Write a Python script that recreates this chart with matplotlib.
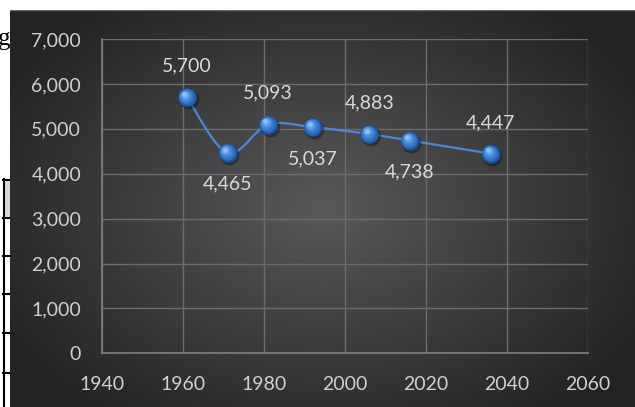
import numpy as np
import matplotlib
matplotlib.use("Agg")
import matplotlib.pyplot as plt
from matplotlib.path import Path
from matplotlib.patches import PathPatch, Rectangle
from matplotlib.lines import Line2D
from matplotlib.transforms import offset_copy
from matplotlib.ticker import FuncFormatter

# population series
years = [1961, 1971, 1981, 1992, 2006, 2016, 2036]
values = [5700, 4465, 5093, 5037, 4883, 4738, 4447]
label_above = [True, False, True, False, True, False, True]

x_ticks = [1940, 1960, 1980, 2000, 2020, 2040, 2060]
y_ticks = [0, 1000, 2000, 3000, 4000, 5000, 6000, 7000]

W, H = 635, 407
fig = plt.figure(figsize=(W / 100, H / 100), dpi=100)
fig.patch.set_facecolor("white")

# bits of the page behind the chart: caption text and a table
fig.text(-2 / W, 1 - 45 / H, "gu", fontsize=18, family="Liberation Serif",
         color="black", va="baseline", ha="left", zorder=0)
fig.add_artist(Rectangle((3 / W, 1 - 218 / H), 10 / W, 38 / H,
                         transform=fig.transFigure, facecolor="#d9d9d9",
                         edgecolor="none", zorder=0))
fig.add_artist(Line2D([4 / W, 4 / W], [1 - 179 / H, 0], transform=fig.transFigure,
                      color="black", lw=1.5, zorder=0.5))
for ry in [180, 218, 256, 294, 333, 373]:
    fig.add_artist(Line2D([3 / W, 12 / W], [1 - ry / H, 1 - ry / H],
                          transform=fig.transFigure, color="black", lw=1.5, zorder=0.5))

# dark radial gradient chart area
bg = fig.add_axes([10 / W, 0, (W - 10) / W, (H - 10) / H], zorder=1)
gx = np.linspace(0, 1, 400)
gy = np.linspace(0, 1, 260)
GX, GY = np.meshgrid(gx, gy)
r = np.sqrt(((GX - 0.50) / 0.95) ** 2 + ((GY - 0.50) / 1.05) ** 2)
shade = 0.35 - 0.34 * np.clip(r, 0, 0.62)
shade = np.clip(shade, 0.14, 0.36)
rgb = np.dstack([shade, shade, shade])
bg.imshow(rgb, extent=[0, 1, 0, 1], aspect="auto", origin="upper")
bg.set_axis_off()
bg.add_artist(Line2D([0, 1], [1, 1], transform=bg.transAxes, color="#6a6a6a", lw=1))

ax = fig.add_axes([102 / W, 1 - 353.3 / H, (588 - 102) / W, (353.3 - 39) / H], zorder=2)
ax.patch.set_alpha(0)
ax.set_xlim(1940, 2060)
ax.set_ylim(0, 7000)
ax.set_xticks(x_ticks)
ax.set_yticks(y_ticks)
ax.yaxis.set_major_formatter(FuncFormatter(lambda v, p: f"{int(v):,}"))
ax.grid(True, color="#6c6c6c", lw=1)
ax.set_axisbelow(True)
for side in ["top", "right"]:
    ax.spines[side].set_visible(False)
for side in ["left", "bottom"]:
    ax.spines[side].set_color("#7a7a7a")
    ax.spines[side].set_linewidth(1.3)
ax.tick_params(length=0, colors="#cfcfcf", labelsize=14)
ax.tick_params(axis="y", pad=15)
ax.tick_params(axis="x", pad=16)
for lab in ax.get_xticklabels() + ax.get_yticklabels():
    lab.set_family("Lato")

# smoothed line through the points (cubic bezier segments)
P = np.column_stack([years, values]).astype(float)
n = len(P)
verts = [P[0]]
codes = [Path.MOVETO]
for i in range(n - 1):
    p0 = P[max(i - 1, 0)]
    p1 = P[i]
    p2 = P[i + 1]
    p3 = P[min(i + 2, n - 1)]
    c1 = p1 + (p2 - p0) / 6
    c2 = p2 - (p3 - p1) / 6
    verts += [c1, c2, p2]
    codes += [Path.CURVE4] * 3
ax.add_patch(PathPatch(Path(verts, codes), facecolor="none", edgecolor="#4a88d6",
                       lw=1.6, zorder=3))

# shaded sphere markers
ax.scatter(years, values, s=200, color="black", alpha=0.35, zorder=4,
           transform=offset_copy(ax.transData, fig, x=1.5, y=-2, units="dots"),
           linewidths=0)
layers = [(180, "#1d4f94", 0, 0), (150, "#2863b0", -0.5, 0.5), (110, "#3375c6", -1, 1),
          (70, "#4587d6", -1.6, 1.8), (35, "#62a0e6", -2.2, 2.6), (12, "#8fbdf2", -2.6, 3.2)]
for s, c, dx, dy in layers:
    ax.scatter(years, values, s=s, color=c, zorder=5, linewidths=0,
               transform=offset_copy(ax.transData, fig, x=dx, y=dy, units="dots"))

for xv, yv, up in zip(years, values, label_above):
    ax.annotate(f"{yv:,}", (xv, yv), xytext=(0, 22.5 if up else -22.5),
                textcoords="offset points", ha="center", va="center",
                fontsize=14, family="Lato", color="#d9d9d9", zorder=6)

fig.savefig("out.png", dpi=100)
